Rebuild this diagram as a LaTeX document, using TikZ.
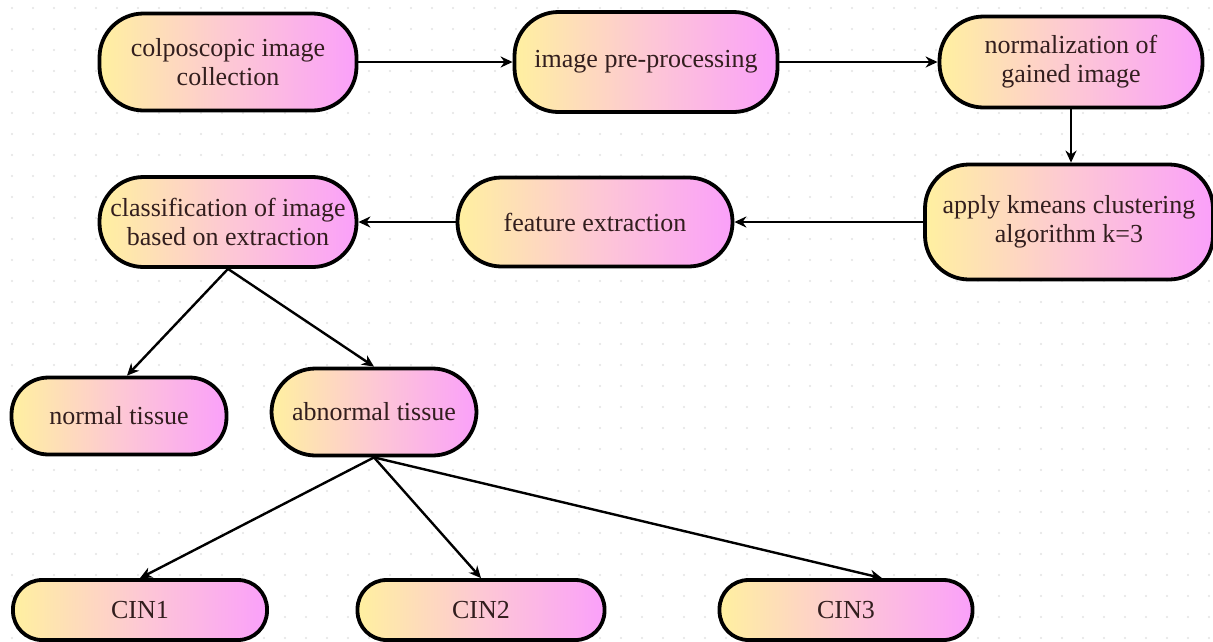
\documentclass[tikz,border=0pt]{standalone}
\usepackage{fontspec}
\setmainfont{Liberation Serif}
\usetikzlibrary{arrows.meta,calc}
\definecolor{gy}{RGB}{255,240,160}
\definecolor{gp}{RGB}{253,200,212}
\definecolor{gm}{RGB}{250,160,250}
\definecolor{txt}{RGB}{50,30,30}
\begin{document}
\begin{tikzpicture}[x=1pt,y=-1pt,
  box/.style={draw=black, line width=3.8pt, left color=gy, right color=gm, middle color=gp,
    align=center, text=txt, font=\fontsize{26}{29}\selectfont, inner sep=0pt},
  big/.style={rounded corners=44pt},
  small/.style={rounded corners=29pt},
  arr/.style={line width=2.4pt, -{Stealth[length=12pt,width=11pt]}}]
\useasboundingbox (0,0) rectangle (1213,641);
\fill[white] (0,0) rectangle (1213,641);
\foreach \x in {12,33,...,1213} \foreach \y in {8,29,...,641} \fill[gray!22] (\x,\y) circle (1.1pt);
\node[box,big,minimum width=257pt,minimum height=97pt] (n1) at (228,62) {colposcopic image\\collection};
\node[box,big,minimum width=263pt,minimum height=100pt] (n2) at (646,62) {image pre-processing};
\node[box,big,minimum width=263pt,minimum height=91pt] (n3) at (1071,62) {normalization of\\gained image};
\node[box,big,minimum width=288pt,minimum height=115pt] (n4) at (1069,222) {apply kmeans clustering\\algorithm k=3};
\node[box,big,minimum width=275pt,minimum height=89pt] (n5) at (595,222) {feature extraction};
\node[box,big,minimum width=257pt,minimum height=90pt] (n6) at (228,222) {classification of image\\based on extraction};
\node[box,big,minimum width=215pt,minimum height=77pt,rounded corners=37pt] (n7) at (119,416) {normal tissue};
\node[box,big,minimum width=205pt,minimum height=87pt] (n8) at (374,412) {abnormal tissue};
\node[box,small,minimum width=254pt,minimum height=60pt] (c1) at (140,610) {CIN1};
\node[box,small,minimum width=247pt,minimum height=60pt] (c2) at (481,610) {CIN2};
\node[box,small,minimum width=253pt,minimum height=60pt] (c3) at (846,610) {CIN3};
\draw[arr] (n1.east) -- (n2.west);
\draw[arr] (n2.east) -- (n3.west);
\draw[arr] (n3.south) -- (n3.south |- n4.north);
\draw[arr] (n4.west) -- (n5.east);
\draw[arr] (n5.west) -- (n6.east);
\draw[arr] (n6.south) -- ($(n7.north)+(8,0)$);
\draw[arr] (n6.south) -- (n8.north);
\draw[arr] (n8.south) -- (c1.north);
\draw[arr] (n8.south) -- (c2.north);
\draw[arr] (n8.south) -- ($(c3.north)+(36,0)$);
\end{tikzpicture}
\end{document}
